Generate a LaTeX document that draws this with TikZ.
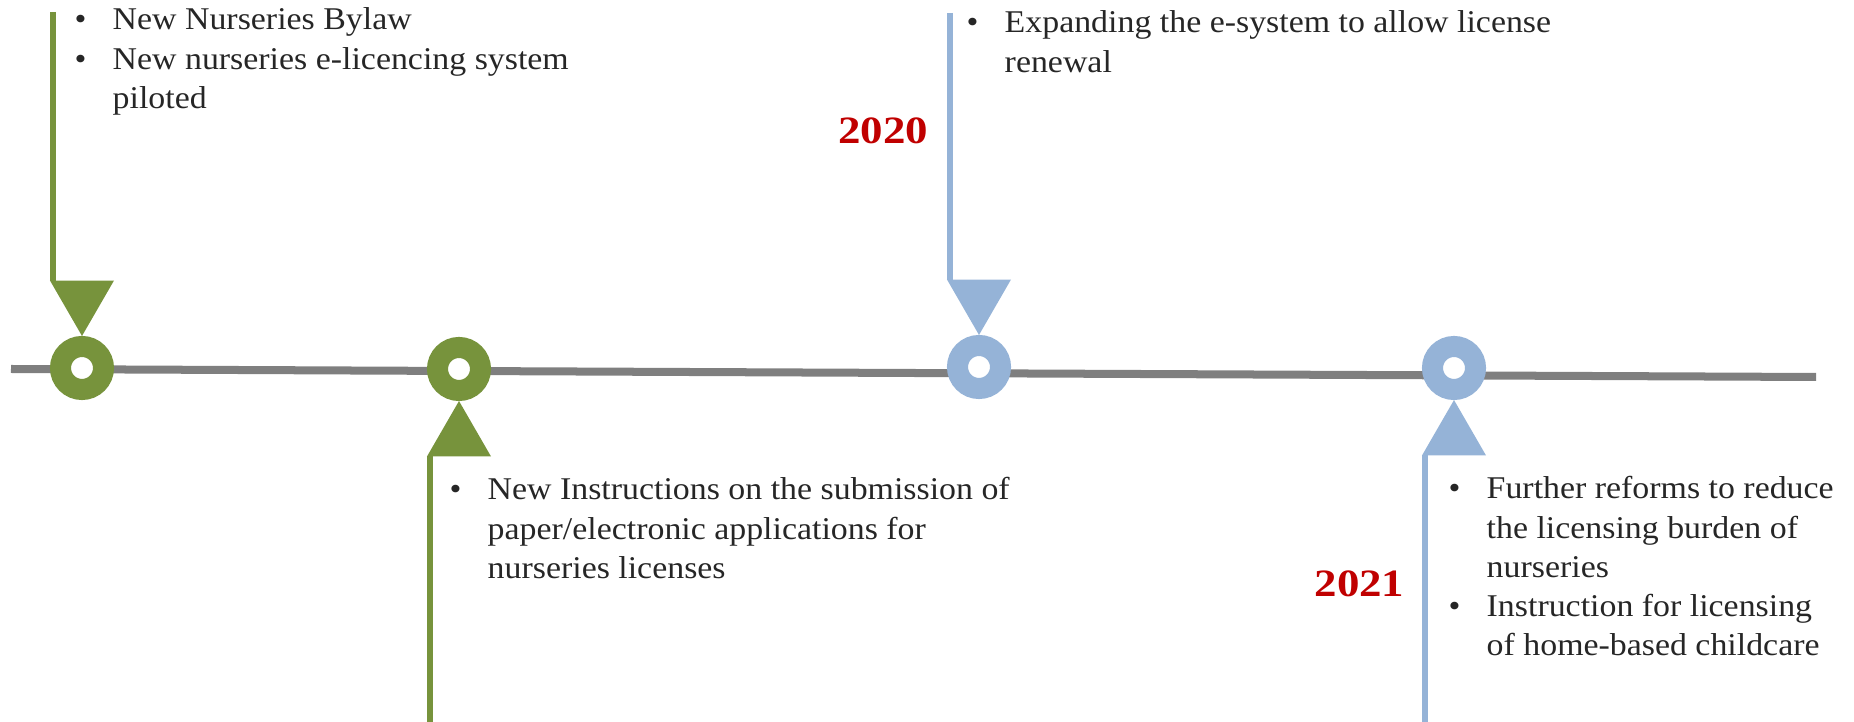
\documentclass[tikz,border=0pt]{standalone}
\usepackage{fontspec}
\setmainfont{Liberation Serif}[FakeStretch=1.07]
\newfontfamily\yearfont{Liberation Serif}[FakeStretch=1.16]
\usetikzlibrary{shapes, positioning}
\definecolor{tlgreen}{HTML}{77933C}
\definecolor{tlblue}{HTML}{95B3D7}
\definecolor{tlgray}{HTML}{7F7F7F}
\definecolor{yearred}{HTML}{C00000}
\definecolor{txtgray}{HTML}{262626}
\newcommand{\bul}{\makebox[0.38cm][l]{\textbullet}}
\tikzstyle{ring} = [circle, line width=0.21cm, fill=white, minimum size=0.43cm, inner sep=0pt]
\tikzstyle{headtri} = [regular polygon, regular polygon sides=3, minimum size=0.739cm, inner sep=0pt, outer sep=0pt]
\tikzstyle{stemline} = [line width=0.06cm]
\tikzstyle{timeline} = [line width=0.08cm, draw=tlgray]
\tikzstyle{notes} = [anchor=base west, inner sep=0pt, text=txtgray, font=\fontsize{9}{11.1}\selectfont]
\tikzstyle{yearlbl} = [anchor=base east, inner sep=0pt, text=yearred, font=\yearfont\fontsize{11}{13}\selectfont\bfseries]

\begin{document}
\begin{tikzpicture}[x=0.01cm, y=-0.01cm]
    \useasboundingbox (0,0) rectangle (1854,722);
    % Timeline
    \coordinate (lineStart) at (11,369);
    \coordinate (lineEnd) at (1816,377);
    \draw [timeline] (lineStart) -- (lineEnd);

    % Nodes
    \node (circleBylaw) [ring, draw=tlgreen] at (82,368) {};
    \node (circleInstr) [ring, draw=tlgreen] at (459,369) {};
    \node (circleRenewal) [ring, draw=tlblue] at (979,367) {};
    \node (circleReform) [ring, draw=tlblue] at (1454,368) {};
    \node (headBylaw) [headtri, shape border rotate=180, fill=tlgreen, above=0pt of circleBylaw] {};
    \node (headInstr) [headtri, fill=tlgreen, below=0pt of circleInstr] {};
    \node (headRenewal) [headtri, shape border rotate=180, fill=tlblue, above=0pt of circleRenewal] {};
    \node (headReform) [headtri, fill=tlblue, below=0pt of circleReform] {};
    \coordinate (topBylaw) at (53,12);
    \coordinate (bottomInstr) at (430,722);
    \coordinate (topRenewal) at (950,13);
    \coordinate (bottomReform) at (1425,722);

    \node (notesBylaw) [notes] at (74,30) {\begin{tabular}[t]{@{}l@{}}
        \bul New Nurseries Bylaw\\
        \bul New nurseries e-licencing system\\
        \hspace{0.38cm}piloted\end{tabular}};
    \node (notesInstr) [notes] at (449,500) {\begin{tabular}[t]{@{}l@{}}
        \bul New Instructions on the submission of\\
        \hspace{0.38cm}paper/electronic applications for\\
        \hspace{0.38cm}nurseries licenses\end{tabular}};
    \node (notesRenewal) [notes] at (966,33) {\begin{tabular}[t]{@{}l@{}}
        \bul Expanding the e-system to allow license\\
        \hspace{0.38cm}renewal\end{tabular}};
    \node (notesReform) [notes] at (1448,499) {\begin{tabular}[t]{@{}l@{}}
        \bul Further reforms to reduce\\
        \hspace{0.38cm}the licensing burden of\\
        \hspace{0.38cm}nurseries\\
        \bul Instruction for licensing\\
        \hspace{0.38cm}of home-based childcare\end{tabular}};
    \node (yearRenewal) [yearlbl] at (929,144) {2020};
    \node (yearReform) [yearlbl] at (1405,597) {2021};

    % Arrows
    \draw [stemline, tlgreen] (topBylaw) -- (topBylaw |- headBylaw.north);
    \draw [stemline, tlgreen] (bottomInstr) -- (bottomInstr |- headInstr.south);
    \draw [stemline, tlblue] (topRenewal) -- (topRenewal |- headRenewal.north);
    \draw [stemline, tlblue] (bottomReform) -- (bottomReform |- headReform.south);
\end{tikzpicture}
\end{document}
